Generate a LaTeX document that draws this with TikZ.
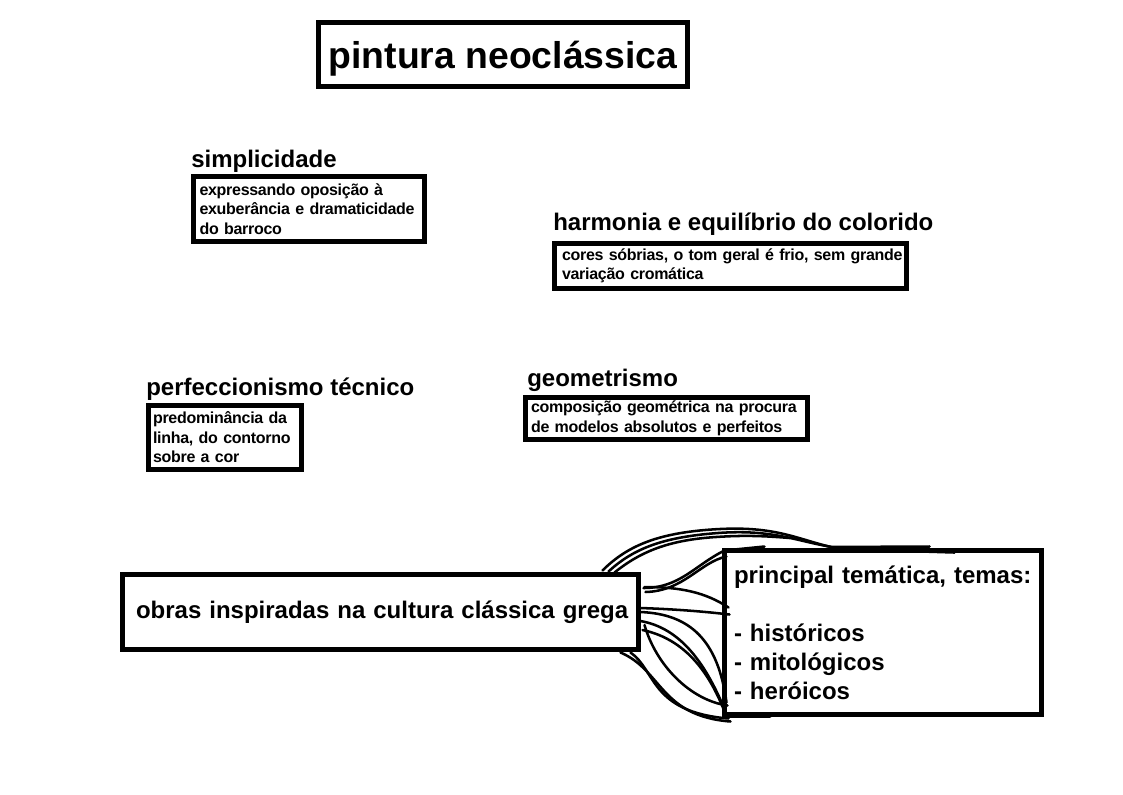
\documentclass[tikz,border=0pt]{standalone}
\usepackage{fontspec}
\setmainfont{Liberation Sans}[BoldFont=Liberation Sans Bold]
\newfontfamily\bodyfont{Liberation Sans Bold}[LetterSpace=-1.8]
\usetikzlibrary{calc}
\newdimen\pxu \pxu=0.75pt
\begin{document}
\begin{tikzpicture}[x=0.75pt,y=-0.75pt,
  frame/.style={draw, line width=3.75pt, anchor=north west, inner ysep=0pt, outer sep=0pt},
  body/.style={frame, align=left, font=\bodyfont\fontsize{12}{14.6}\selectfont},
  head/.style={anchor=base west, inner sep=0pt, font=\bfseries\fontsize{18}{21.6}\selectfont},
  scrib/.style={line width=1.9pt, line cap=round, line join=round}]
\useasboundingbox[fill=white] (0,0) rectangle (1123,794);

% title
\node[frame, minimum width=369\pxu, minimum height=64\pxu, text depth=0pt,
      font=\bfseries\fontsize{28}{32}\selectfont] (title) at (318.5,22.5) {pintura neoclássica};

% simplicidade
\node[head] (simp) at (191,167) {simplicidade};
\node[body, minimum width=231\pxu, minimum height=65\pxu, text width=219\pxu, inner xsep=6\pxu]
  (simpbox) at (193.5,176.5)
  {\mbox{expressando oposição à}\\\mbox{exuberância e dramaticidade}\\\mbox{do barroco}};

% harmonia
\node[head] (harm) at (553,230) {harmonia e equilíbrio do colorido};
\node[body, minimum width=352\pxu, minimum height=45\pxu, text width=337\pxu, inner xsep=7.5\pxu]
  (harmbox) at (554.5,243.5)
  {\mbox{cores sóbrias, o tom geral é frio, sem grande}\\\mbox{variação cromática}};

% perfeccionismo
\node[head] (perf) at (146,395) {perfeccionismo técnico};
\node[body, minimum width=153\pxu, minimum height=64\pxu, text width=144\pxu, inner xsep=4.5\pxu]
  (perfbox) at (148.5,405.5)
  {\mbox{predominância da}\\\mbox{linha, do contorno}\\\mbox{sobre a cor}};

% geometrismo
\node[head] (geom) at (527,386) {geometrismo};
\node[body, minimum width=282\pxu, minimum height=42\pxu, text width=271\pxu, inner xsep=5.5\pxu]
  (geombox) at (525.5,397.5)
  {\mbox{composição geométrica na procura}\\\mbox{de modelos absolutos e perfeitos}};

% obras
\node[frame, minimum width=516\pxu, minimum height=75\pxu, text width=489\pxu, inner xsep=13.5\pxu,
      align=left, font=\bfseries\fontsize{18}{21.6}\selectfont]
  (obras) at (122.5,574.5) {\mbox{obras inspiradas na cultura clássica grega}};

% principal temática
\node[frame, minimum width=317\pxu, minimum height=164\pxu, text width=298\pxu, inner xsep=9.5\pxu,
      align=left, font=\bfseries\fontsize{18}{21.75}\selectfont]
  (tema) at (724.5,550.5)
  {\mbox{principal temática, temas:}\\[21.75pt]\mbox{- históricos}\\\mbox{- mitológicos}\\\mbox{- heróicos}};

% scribbled connectors
\draw[scrib] ($(obras.north east)+(-36,-4)$) .. controls (628,545) and (660,532) .. (720,529)
  .. controls (780,526) and (800,541) .. (840,549) -- ($(tema.north west)+(230,2)$);
\draw[scrib] ($(obras.north east)+(-30,-3)$) .. controls (634,548) and (664,537) .. (718,533)
  .. controls (772,529) and (796,541) .. (832,547) -- ($(tema.north west)+(205,-4)$);
\draw[scrib] ($(obras.north east)+(-24,-2)$) .. controls (640,552) and (668,540) .. (716,537)
  .. controls (745,535) and (765,536) .. (790,538);
\draw[scrib] ($(obras.east)+(5,-24)$) .. controls (680,588) and (695,565) .. (tema.north west)
  -- ($(tema.north west)+(40,-4)$);
\draw[scrib] ($(obras.east)+(7,-20)$) .. controls (684,591) and (700,562) .. ($(tema.north west)+(2,6)$);
\draw[scrib] ($(obras.east)+(6,-25)$) .. controls (680,587) and (705,592) .. ($(tema.west)+(4,-25)$);
\draw[scrib] ($(obras.east)+(2,-4)$) .. controls (670,609) and (700,611) .. ($(tema.west)+(5,-18)$);
\draw[scrib] ($(obras.east)+(2,0)$) .. controls (690,614) and (718,640) .. ($(tema.south west)+(2,-12)$);
\draw[scrib] ($(obras.east)+(2,9)$) .. controls (680,628) and (706,662) .. ($(tema.south west)+(3,2)$);
\draw[scrib] ($(obras.east)+(6,13)$) .. controls (656,665) and (690,700) .. ($(tema.south west)+(3,-9)$);
\draw[scrib] ($(obras.east)+(4,18)$) .. controls (690,640) and (712,680) .. ($(tema.south west)+(0,-3)$);
\draw[scrib] ($(obras.south east)+(-18,3)$) .. controls (662,670) and (660,716) .. ($(tema.south west)+(6,7)$);
\draw[scrib] ($(obras.south east)+(-8,3)$) .. controls (656,670) and (650,712) .. ($(tema.south west)+(4,4)$);
\draw[scrib, line width=3.5pt] ($(tema.south west)+(0,1)$) -- ($(tema.south west)+(45,1)$);
\end{tikzpicture}
\end{document}
